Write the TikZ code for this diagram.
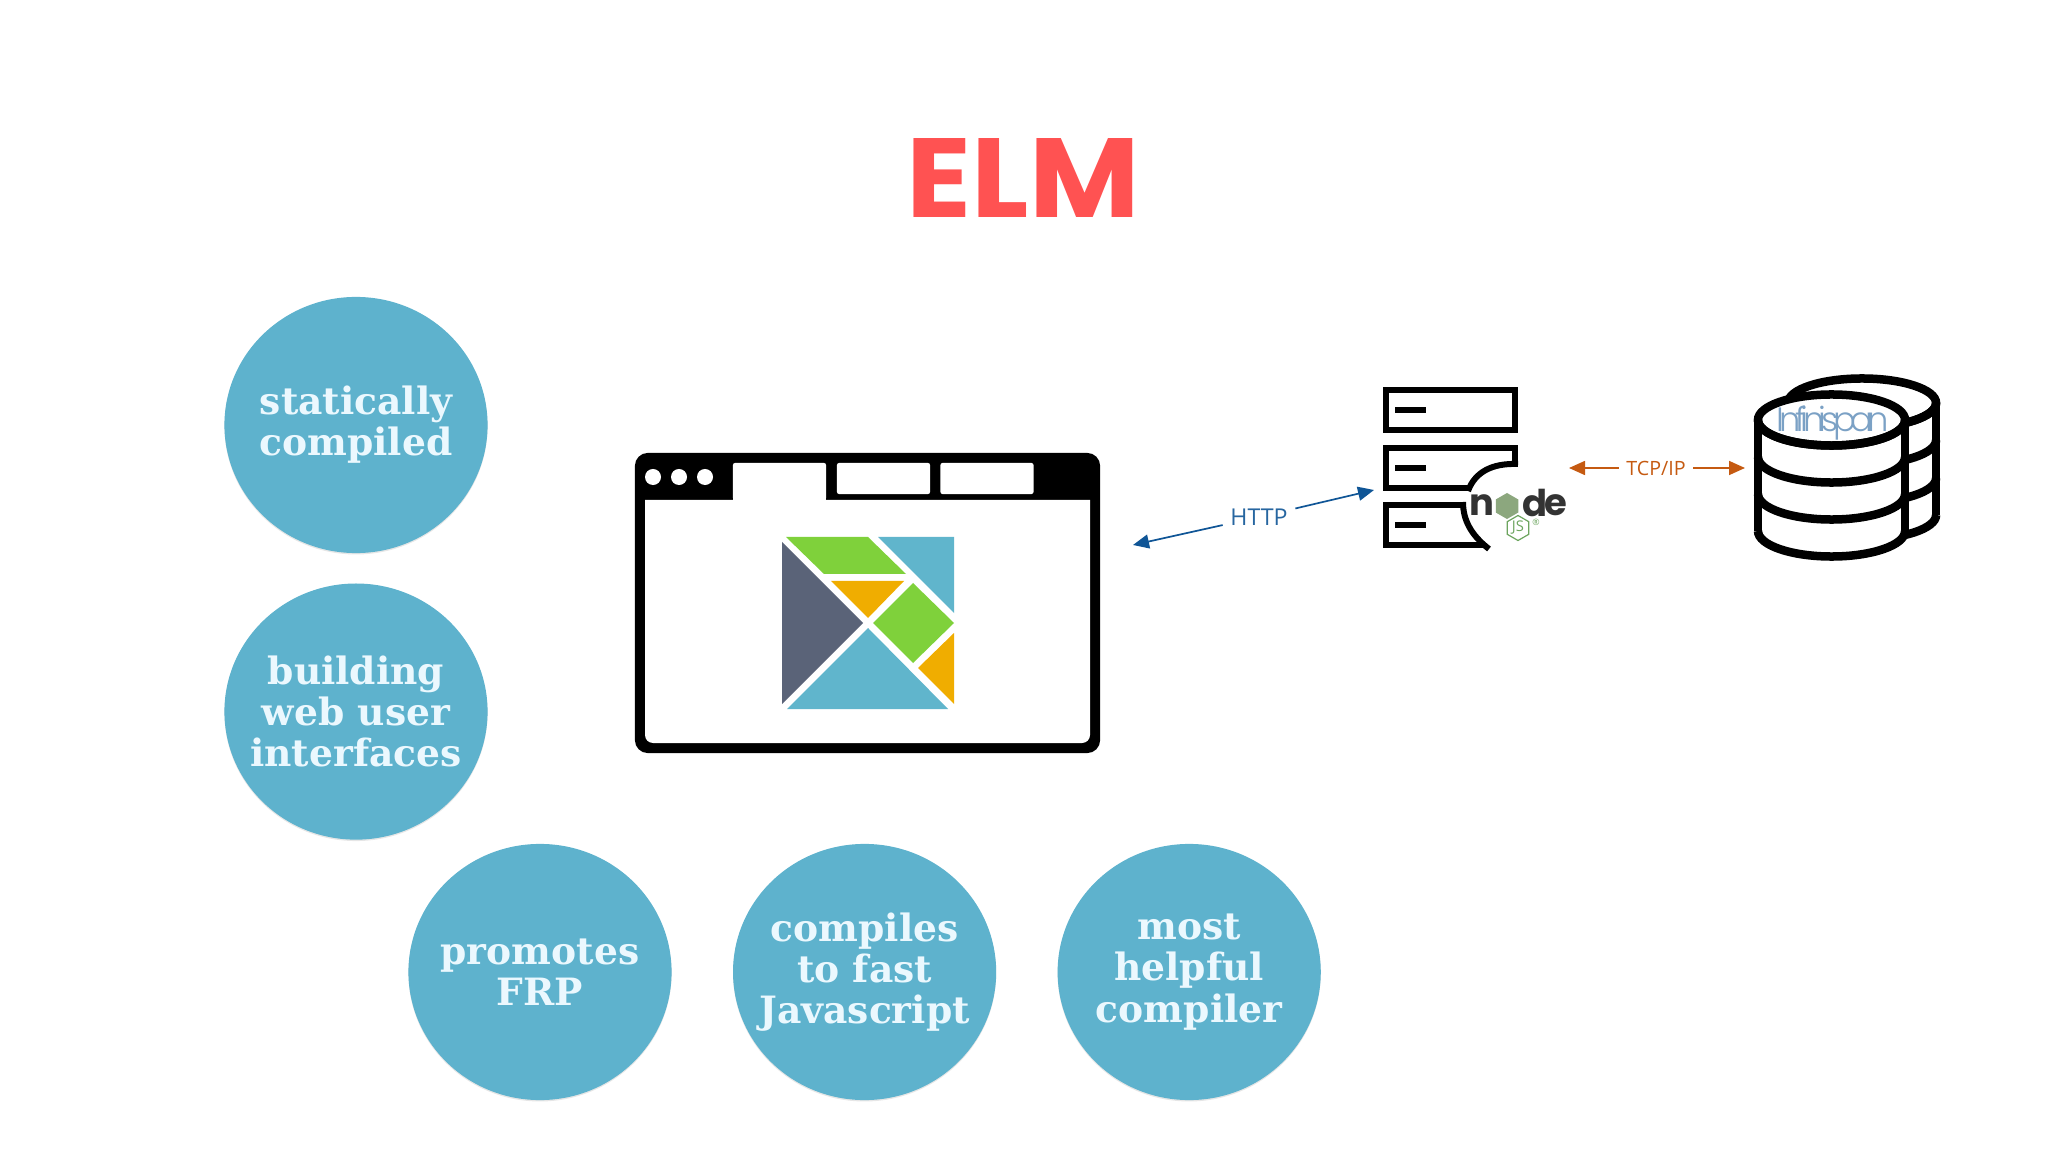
\documentclass[tikz,border=0pt]{standalone}
\usepackage{fontspec}
\usepackage{xcolor}
\usepackage{graphicx}
\usetikzlibrary{positioning,arrows.meta,shapes.geometric,shadows}
\setmainfont{Open Sans}
\newfontfamily\titlefont{Poppins}
\newfontfamily\slabfont{DejaVu Serif}
\newfontfamily\infifont[UprightFont=* Light,LetterSpace=-16]{Poppins}
\definecolor{elmblue}{HTML}{60B5CC}
\definecolor{bubbleblue}{HTML}{5EB2CD}
\definecolor{elmgreen}{HTML}{7FD13B}
\definecolor{elmorange}{HTML}{F0AD00}
\definecolor{elmdark}{HTML}{5A6378}
\definecolor{titlered}{HTML}{FF5252}
\definecolor{httpblue}{HTML}{0F5596}
\definecolor{tcporange}{HTML}{C55A11}
\definecolor{nodegreen}{HTML}{8CA77E}
\definecolor{jsgreen}{HTML}{6DA55F}
\definecolor{nodegrey}{HTML}{333333}

\begin{document}
\begin{tikzpicture}[
  x=0.01cm, y=-0.01cm,
  bubble/.style={ellipse, fill=bubbleblue, text=cyan!8!white, minimum width=2.63cm, minimum height=2.56cm, inner sep=-0.5cm, align=center, font=\slabfont\bfseries\fontsize{10.7}{11.7}\selectfont, drop shadow={opacity=0.2, shadow xshift=0pt, shadow yshift=-0.4pt}},
  frame/.style={rectangle, fill=black, rounded corners=0.13cm, minimum width=4.65cm, minimum height=3cm, inner sep=0pt},
  tab/.style={rectangle, fill=white, rounded corners=0.02cm, minimum width=0.93cm, minimum height=0.31cm, inner sep=0pt},
  dot/.style={circle, fill=white, minimum size=0.16cm, inner sep=0pt},
  srvbox/.style={rectangle, draw=black, line width=0.06cm, minimum width=1.29cm, minimum height=0.40cm, inner sep=0pt},
  srvline/.style={line width=0.06cm, black},
  dbline/.style={line width=0.085cm, black},
  logotext/.style={font=\titlefont\bfseries\fontsize{10.5}{12}\selectfont, text=nodegrey, inner sep=0pt},
  wordlabel/.style={inner sep=2pt, font=\fontsize{6.6}{8}\selectfont},
  httparrow/.style={-{Triangle[length=0.16cm,width=0.14cm]}, line width=0.017cm, httpblue},
  tcparrow/.style={-{Triangle[length=0.16cm,width=0.14cm]}, line width=0.017cm, tcporange}
]
\useasboundingbox (0,0) rectangle (2048,1152);

% title
\node[font=\titlefont\bfseries\fontsize{32}{36}\selectfont, text=titlered] (title) at (1023,178) {\scalebox{1.07}[1]{ELM}};

% features
\node[bubble] (static) at (356,425) {statically\\compiled};
\node[bubble, below=0.29cm of static] (webui) {building\\web user\\interfaces};
\node[bubble] (frp) at (540,972) {promotes\\FRP};
\node[bubble, right=0.60cm of frp] (fastjs) {compiles\\to fast\\Javascript};
\node[bubble, right=0.60cm of fastjs] (helpful) {most\\helpful\\compiler};

% browser
\node[frame] (browser) at (867.5,603) {};
\fill[white] (645,500) -- (1090,500) [rounded corners=0.08cm] -- (1090,743) -- (645,743) [sharp corners] -- cycle;
\fill[white] (733,510) rectangle (826,470);
\node[tab, minimum height=0.37cm] (tab1) at (779.5,481.5) {};
\node[tab] (tab2) at (883.5,478.5) {};
\node[tab, right=0.09cm of tab2] (tab3) {};
\foreach \dotx/\dotname in {653/d1,679/d2,705/d3}
  \node[dot] (\dotname) at (\dotx,477) {};

% elm logo
\fill[elmdark] (782,542) -- (863,623) -- (782,704) -- cycle;
\fill[elmgreen] (786,537) -- (868,537) -- (906,574) -- (824,574) -- cycle;
\fill[elmblue] (878,537) -- (954,537) -- (954,613) -- cycle;
\fill[elmorange] (831,581) -- (904,581) -- (868,618) -- cycle;
\fill[elmgreen] (913,583) -- (954,623) -- (913,663) -- (873,623) -- cycle;
\fill[elmblue] (868,628) -- (948,709) -- (787,709) -- cycle;
\fill[elmorange] (954,633) -- (954,704) -- (918,668) -- cycle;

% server
\node[srvbox] (srv1) at (1450.5,410) {};
\node[srvbox] (srv2) at (1450.5,468) {};
\node[srvbox] (srv3) at (1450.5,525) {};
\foreach \srv in {srv1,srv2,srv3}
  \fill[black] (\srv.center) ++(-0.555cm,-0.03cm) rectangle ++(0.31cm,0.06cm);
\fill[white] (1522,464) -- (1518,464) .. controls (1492,463) and (1475,472) .. (1468,491) -- (1463,502) .. controls (1463,520) and (1471,535) .. (1489,549) -- (1522,552) -- cycle;
\draw[srvline] (1518,464) .. controls (1492,463) and (1475,472) .. (1468,491);
\draw[srvline] (1463,502) .. controls (1463,520) and (1471,535) .. (1489,549);
\node[logotext] (njs_n) at (1482,505) {n};
\node[regular polygon, regular polygon sides=6, shape border rotate=30, fill=nodegreen, minimum size=0.26cm, inner sep=0pt] (njs_o) at (1507,506) {};
\node[logotext] (njs_d) at (1535,503) {d};
\node[logotext] (njs_e) at (1556,505) {e};
\node[regular polygon, regular polygon sides=6, shape border rotate=30, draw=jsgreen, line width=0.012cm, minimum size=0.25cm, inner sep=0pt, text=jsgreen, font=\fontsize{4.2}{5}\selectfont] (njs_js) at (1518,528) {JS};
\node[text=jsgreen, inner sep=0pt, font=\fontsize{2.5}{3}\selectfont] (njs_r) at (1536,522) {®};

% storage
\draw[dbline, fill=white] (1862,403) ellipse[x radius=0.74cm, y radius=0.245cm];
\draw[dbline] (1936,403) -- (1936,515);
\foreach \dy in {403,440,478,515}
  \draw[dbline] (1788,\dy) arc[start angle=180, end angle=360, x radius=0.74cm, y radius=0.245cm];
\fill[white] (1758,420) -- (1758,531) arc[start angle=180, end angle=360, x radius=0.735cm, y radius=0.255cm] -- (1905,420) -- cycle;
\draw[dbline, fill=white] (1831.5,420) ellipse[x radius=0.735cm, y radius=0.255cm];
\draw[dbline] (1758,420) -- (1758,531);
\draw[dbline] (1905,420) -- (1905,531);
\foreach \dy in {420,457,494,531}
  \draw[dbline] (1758,\dy) arc[start angle=180, end angle=360, x radius=0.735cm, y radius=0.255cm];
\node[font=\infifont\fontsize{9.6}{11}\selectfont, text=httpblue!55!white, inner sep=0pt] (infinispan) at (1833,423) {Infinispan};

% protocols
\coordinate (http_l) at (1133,545);
\coordinate (http_r) at (1374,490);
\node[wordlabel, text=httpblue!90!white] (http) at (1259,517) {HTTP};
\draw[httparrow] (http) -- (http_l);
\draw[httparrow] (http) -- (http_r);
\coordinate (tcp_l) at (1569,468);
\coordinate (tcp_r) at (1745,468);
\node[wordlabel, text=tcporange, font=\fontsize{5.6}{7}\selectfont] (tcp) at (1656,468) {TCP/IP};
\draw[tcparrow] (tcp) -- (tcp_l);
\draw[tcparrow] (tcp) -- (tcp_r);
\end{tikzpicture}
\end{document}
